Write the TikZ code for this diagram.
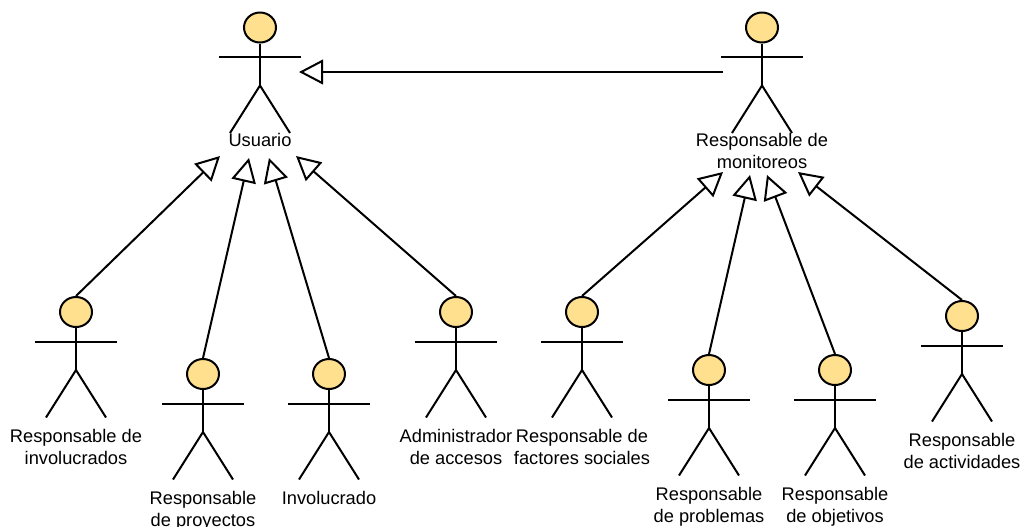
\documentclass[tikz,border=0pt]{standalone}
\usepackage{fontspec}
\setmainfont{Liberation Sans}
\usetikzlibrary{calc,arrows.meta,shapes.geometric}

\begin{document}
\begin{tikzpicture}[x=0.75pt,y=-0.75pt,line width=1.5pt,
  head/.style={ellipse,draw,fill=headyellow,minimum width=24pt,minimum height=22.5pt,inner sep=0pt},
  body/.style={line cap=butt},
  label/.style={align=center,font=\fontsize{13.7}{16.5}\selectfont,inner sep=0pt,text height=10pt,text depth=3pt},
  extends/.style={-{Triangle[open,length=18pt,width=18.5pt]}}]
\definecolor{headyellow}{HTML}{FFE08F}
\useasboundingbox (0,0) rectangle (1020,526);

% ---------- parameters ----------
% name, x and y of the head centre, y of the last label line, label
\def\actor#1#2#3#4#5{%
  \node[head] (#1) at (#2,#3) {};
  \draw[body] (#1.south) -- ++(0,42) coordinate (#1-hip);
  \draw[body] ($(#2,#3)+(-41,29.5)$) -- ($(#2,#3)+(41,29.5)$);
  \draw[body] ($(#1-hip)+(-30,47.5)$) -- (#1-hip) -- ($(#1-hip)+(30,47.5)$);
  \node[label] (#1-label) at (#2,#4) {#5};
}

% -------- TOP: the two parents --------
\actor{usuario}{260}{27.5}{142}{Usuario}
\actor{monitoreos}{762}{27.5}{164}{Responsable de\\monitoreos}

% -------- LEFT: children of usuario --------
\actor{involucrados}{76}{312}{460}{Responsable de\\involucrados}
\actor{proyectos}{203}{374}{522}{Responsable\\de proyectos}
\actor{involucrado}{329}{374}{500}{Involucrado}
\actor{accesos}{456}{312}{460}{Administrador\\de accesos}

% -------- RIGHT: children of monitoreos --------
\actor{factores}{582}{312}{460}{Responsable de\\factores sociales}
\actor{problemas}{709}{370}{518}{Responsable\\de problemas}
\actor{objetivos}{835}{370}{518}{Responsable\\de objetivos}
\actor{actividades}{962}{316}{464}{Responsable\\de actividades}

% arrow tips and free ends
\coordinate (tipA) at (220,156);
\coordinate (tipB) at (249,158);
\coordinate (tipC) at (269,158);
\coordinate (tipD) at (296,156);
\coordinate (tipE) at (723,172);
\coordinate (tipF) at (750,175);
\coordinate (tipG) at (767,175);
\coordinate (tipH) at (798,172);
\coordinate (tipI) at (299,72);
\coordinate (startI) at (723,72);

% generalisations
\draw[extends] (involucrados.north) -- (tipA);
\draw[extends] (proyectos.north) -- (tipB);
\draw[extends] (involucrado.north) -- (tipC);
\draw[extends] (accesos.north) -- (tipD);
\draw[extends] (factores.north) -- (tipE);
\draw[extends] (problemas.north) -- (tipF);
\draw[extends] (objetivos.north) -- (tipG);
\draw[extends] (actividades.north) -- (tipH);
\draw[extends] (startI) -- (tipI);

\end{tikzpicture}
\end{document}
